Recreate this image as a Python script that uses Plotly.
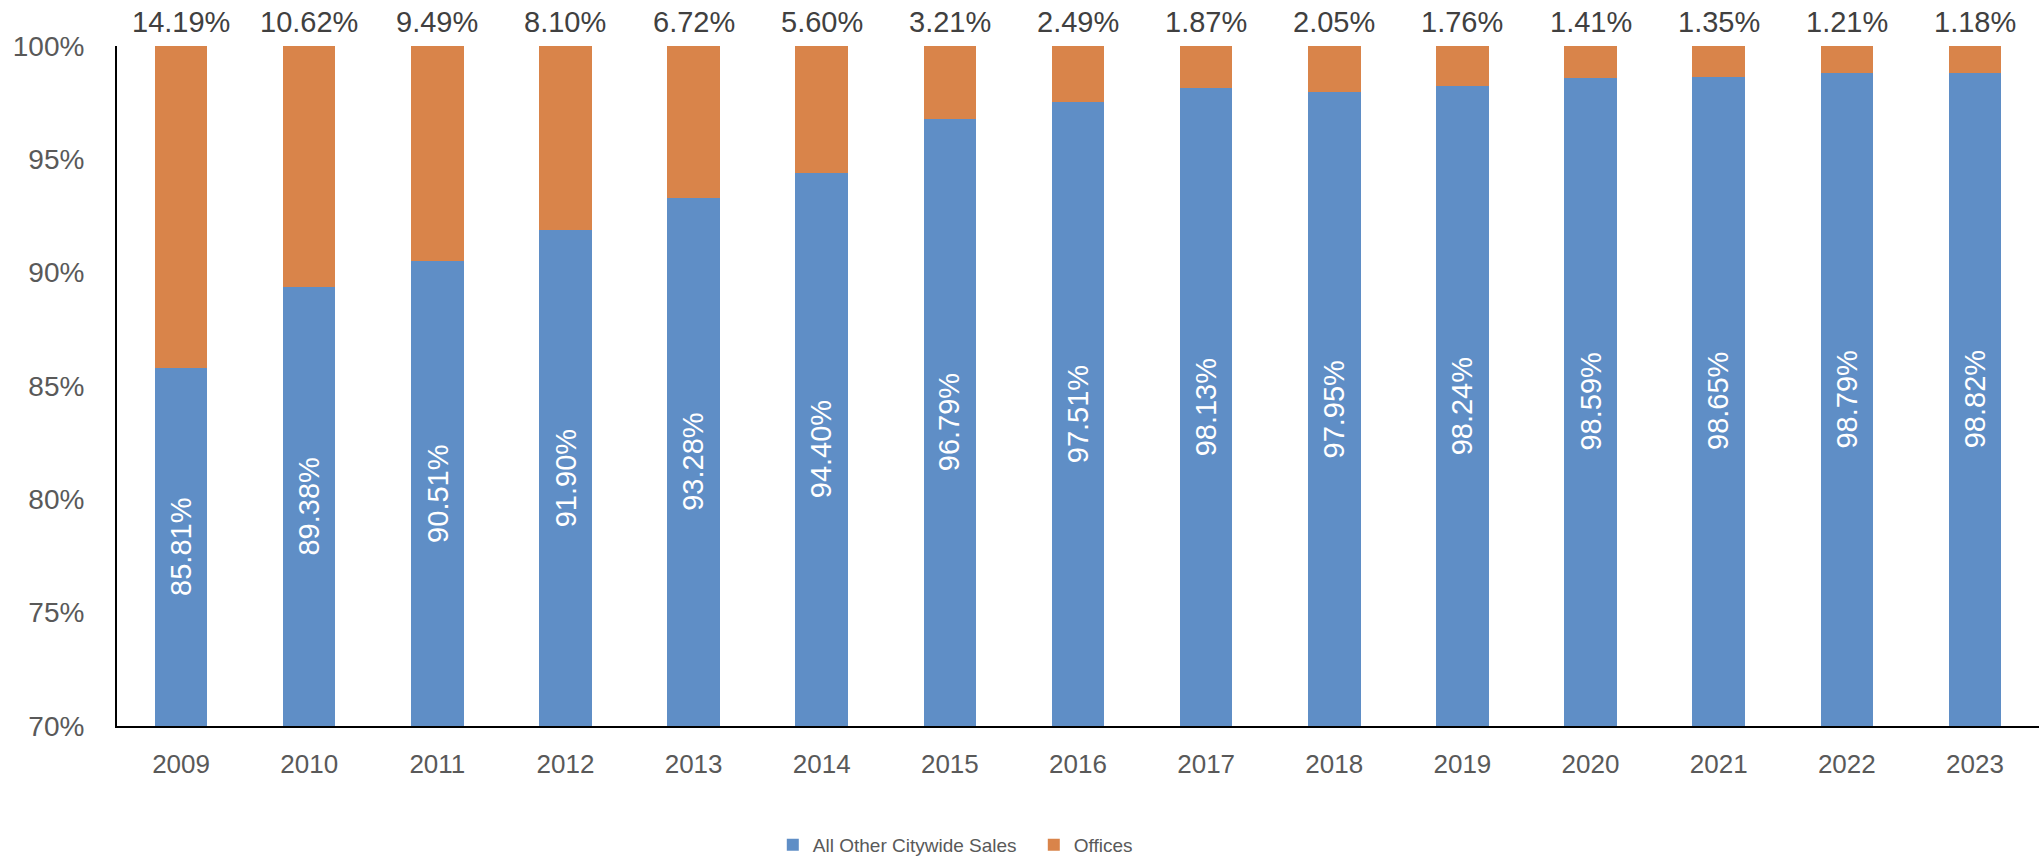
import plotly.graph_objects as go

years = ["2009", "2010", "2011", "2012", "2013", "2014", "2015", "2016",
         "2017", "2018", "2019", "2020", "2021", "2022", "2023"]
other_sales = [85.81, 89.38, 90.51, 91.90, 93.28, 94.40, 96.79, 97.51,
               98.13, 97.95, 98.24, 98.59, 98.65, 98.79, 98.82]
offices = [14.19, 10.62, 9.49, 8.10, 6.72, 5.60, 3.21, 2.49,
           1.87, 2.05, 1.76, 1.41, 1.35, 1.21, 1.18]
y_ticks = [70, 75, 80, 85, 90, 95, 100]
y_tick_labels = [f"{t}%" for t in y_ticks]

BLUE = "#5f8ec6"
ORANGE = "#d9844a"
FONT = "Liberation Sans, Arial, sans-serif"
Y_MIN, Y_MAX = y_ticks[0], y_ticks[-1]

fig = go.Figure()
fig.add_trace(go.Bar(
    x=years, y=other_sales, name="All Other Citywide Sales",
    marker=dict(color=BLUE, line=dict(width=0)),
    textposition="none",
))
fig.add_trace(go.Bar(
    x=years, y=offices, name="Offices",
    marker=dict(color=ORANGE, line=dict(width=0)),
    textposition="none",
))

for i, (a, b) in enumerate(zip(other_sales, offices)):
    # value of offices above each stack
    fig.add_annotation(
        x=i, y=a + b, xref="x", yref="y", text=f"{b:.2f}%",
        showarrow=False, yanchor="bottom", yshift=6,
        font=dict(size=29, color="#404040", family=FONT),
    )
    # value of other sales inside the visible part of the blue bar
    fig.add_annotation(
        x=i, y=(Y_MIN + a) / 2, xref="x", yref="y", text=f"{a:.2f}%",
        showarrow=False, textangle=-90,
        font=dict(size=29, color="white", family=FONT),
    )

fig.update_layout(
    width=2039, height=859,
    barmode="stack", bargap=0.59,
    plot_bgcolor="white", paper_bgcolor="white",
    margin=dict(l=117, r=0, t=46, b=133, autoexpand=False),
    showlegend=True,
    legend=dict(
        orientation="h", x=0.477, xanchor="center", y=-0.175, yanchor="middle",
        font=dict(size=19, color="#595959", family=FONT),
        traceorder="normal", entrywidth=216, entrywidthmode="pixels",
    ),
)
fig.update_xaxes(
    type="category", range=[-0.5, len(years) - 0.5],
    showline=True, linecolor="black", linewidth=2, showgrid=False,
    ticks="outside", tickcolor="rgba(0,0,0,0)", ticklen=14,
    tickfont=dict(size=26, color="#595959", family=FONT),
)
fig.update_yaxes(
    range=[Y_MIN, Y_MAX], tickvals=y_ticks, ticktext=y_tick_labels,
    showline=True, linecolor="black", linewidth=2, showgrid=False, zeroline=False,
    ticks="outside", tickcolor="rgba(0,0,0,0)", ticklen=25,
    tickfont=dict(size=28, color="#595959", family=FONT),
)

fig.write_html(
    "out.html",
    config={"displayModeBar": False},
    post_script="document.body.style.margin='0';document.body.style.overflow='hidden';",
)
